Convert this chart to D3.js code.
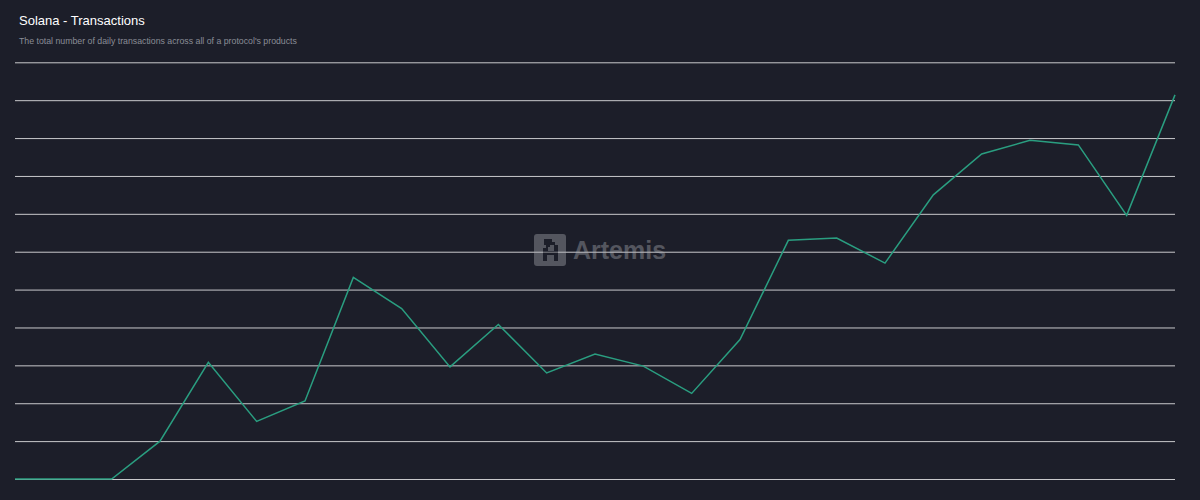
<!DOCTYPE html>
<html><head><meta charset="utf-8">
<script src="https://cdn.jsdelivr.net/npm/d3@7/dist/d3.min.js"></script>
<style>html,body{margin:0;padding:0;background:#1c1e29;}</style>
</head><body>
<svg id="c" width="1200" height="500"></svg>
<script>
const titleText = "Solana - Transactions";
const subtitleText = "The total number of daily transactions across all of a protocol's products";
const days = d3.range(25);
const transactions = [0, 0, 0, 5.0, 15.4, 7.6, 10.3, 26.6, 22.5, 14.8, 20.4, 14.0, 16.5, 14.9, 11.3, 18.4, 31.5, 31.8, 28.5, 37.5, 42.9, 44.7, 44.1, 34.8, 50.7];
const gridTicks = d3.range(0, 56, 5);

const svg = d3.select("#c");
svg.append("rect").attr("width",1200).attr("height",500).attr("fill","#1c1e29");

const x = d3.scaleLinear().domain([0, 24]).range([15, 1175]);
const y = d3.scaleLinear().domain([0, 55]).range([479, 62.3]);

svg.append("text").attr("x",19).attr("y",25).attr("fill","#ffffff")
  .attr("font-family","Liberation Sans, Arial, sans-serif").attr("font-size",13).text(titleText);
svg.append("text").attr("x",19).attr("y",44).attr("fill","#8a8d96")
  .attr("font-family","Liberation Sans, Arial, sans-serif").attr("font-size",8.75).text(subtitleText);

const grid = d3.axisLeft(y).tickValues(gridTicks).tickSize(-(1175-15)).tickFormat("");
const g = svg.append("g").attr("transform","translate(15,0)").call(grid);
g.select(".domain").remove();
g.selectAll(".tick line").attr("stroke","#c9c9cc").attr("stroke-width",1);

// watermark
const wm = svg.append("g").attr("opacity",0.38);
wm.append("rect").attr("x",534).attr("y",234).attr("width",32).attr("height",32).attr("rx",3).attr("fill","#b0b2b8");
wm.append("path").attr("d","M544 239 h8 v3 h3 v3 h3 v16 h-4 v-6 h-7 v6 h-4 v-13 h3 v-3 h-2 z M548 247 v4 h6 v-6 h-4 v2 z").attr("fill","#1c1e29");
wm.append("text").attr("x",573).attr("y",259).attr("fill","#b0b2b8")
  .attr("font-family","Liberation Sans, Arial, sans-serif").attr("font-weight","bold").attr("font-size",25).text("Artemis");

const line = d3.line().x((d,i)=>x(days[i])).y(d=>y(d));
svg.append("path").datum(transactions).attr("d",line).attr("fill","none")
  .attr("stroke","#2a9e80").attr("stroke-width",1.5).attr("stroke-linejoin","miter");
</script>
</body></html>
